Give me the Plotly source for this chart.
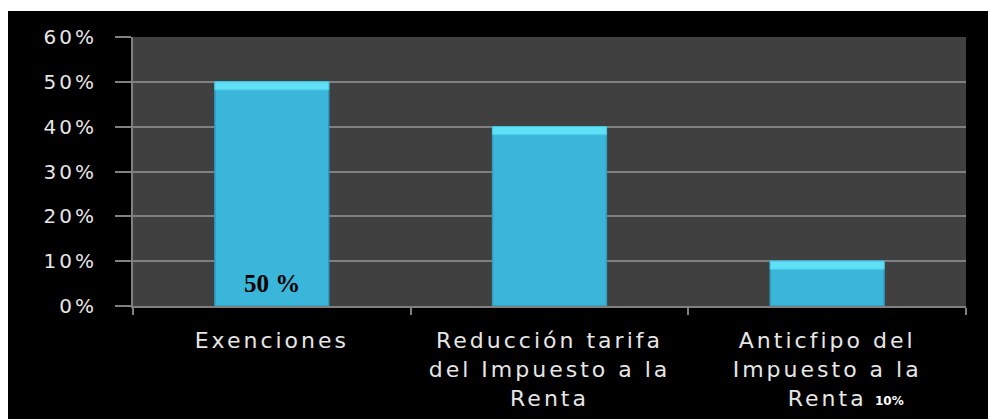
import plotly.graph_objects as go

categories = ["Exenciones", "Reducción tarifa<br>del Impuesto a la<br>Renta", "Anticfipo del<br>Impuesto a la<br>Renta"]
values = [0.50, 0.40, 0.10]
bar_label = "50 %"
stray_label = "10%"
y_ticks = [0, 0.1, 0.2, 0.3, 0.4, 0.5, 0.6]
y_tick_labels = ["0%", "10%", "20%", "30%", "40%", "50%", "60%"]
bevel = [0.018, 0.018, 0.018]

fig = go.Figure()
fig.add_trace(go.Bar(
    x=categories, y=values, width=0.41,
    marker=dict(color="#39B6DA", line=dict(color="#2C9CBF", width=1.5)),
    hoverinfo="skip",
))
fig.add_trace(go.Bar(
    x=categories, y=bevel, base=[v - b for v, b in zip(values, bevel)], width=0.41,
    marker=dict(color="#5FE0F6", line=dict(color="#4CCBE6", width=1)),
    hoverinfo="skip",
))

fig.add_annotation(
    x=categories[0], y=0, yref="y", yshift=23, yanchor="middle",
    text=bar_label, showarrow=False,
    font=dict(family="Liberation Serif", size=25, color="#000000", weight="bold"),
)
fig.add_annotation(
    x=categories[2], y=0, yref="y", yshift=-95, xshift=62, yanchor="middle",
    text=stray_label, showarrow=False,
    font=dict(family="DejaVu Sans", size=12, color="#FFFFFF", weight="bold"),
)

fig.update_layout(
    width=980, height=408,
    margin=dict(l=125, r=22, t=26, b=113),
    paper_bgcolor="#000000", plot_bgcolor="#404040",
    barmode="overlay", showlegend=False,
    font=dict(family="DejaVu Sans", color="#E6E6E6"),
)
fig.update_yaxes(
    range=[0, 0.6], tickvals=y_ticks, ticktext=y_tick_labels,
    showgrid=True, gridcolor="#808080", gridwidth=2,
    showline=True, linecolor="#808080", linewidth=2,
    ticks="outside", ticklen=16, tickcolor="#808080", tickwidth=2,
    tickfont=dict(size=20, color="#E6E6E6"), zeroline=False,
    ticklabelstandoff=14, automargin=False,
)
fig.update_xaxes(
    showline=True, linecolor="#808080", linewidth=2,
    ticks="outside", ticklen=7, tickcolor="#808080", tickwidth=2,
    tickson="boundaries", showgrid=False,
    tickfont=dict(size=22, color="#E6E6E6"),
    ticklabelstandoff=14, automargin=False,
)

css = "g.xtick text{letter-spacing:3px} g.ytick text{letter-spacing:3px}"
post = (
    "document.body.style.margin='11px 0 0 8px';"
    "document.body.style.overflow='hidden';"
    "var s=document.createElement('style');s.textContent='" + css + "';"
    "document.head.appendChild(s);"
)
fig.write_html("out.html", post_script=post)
